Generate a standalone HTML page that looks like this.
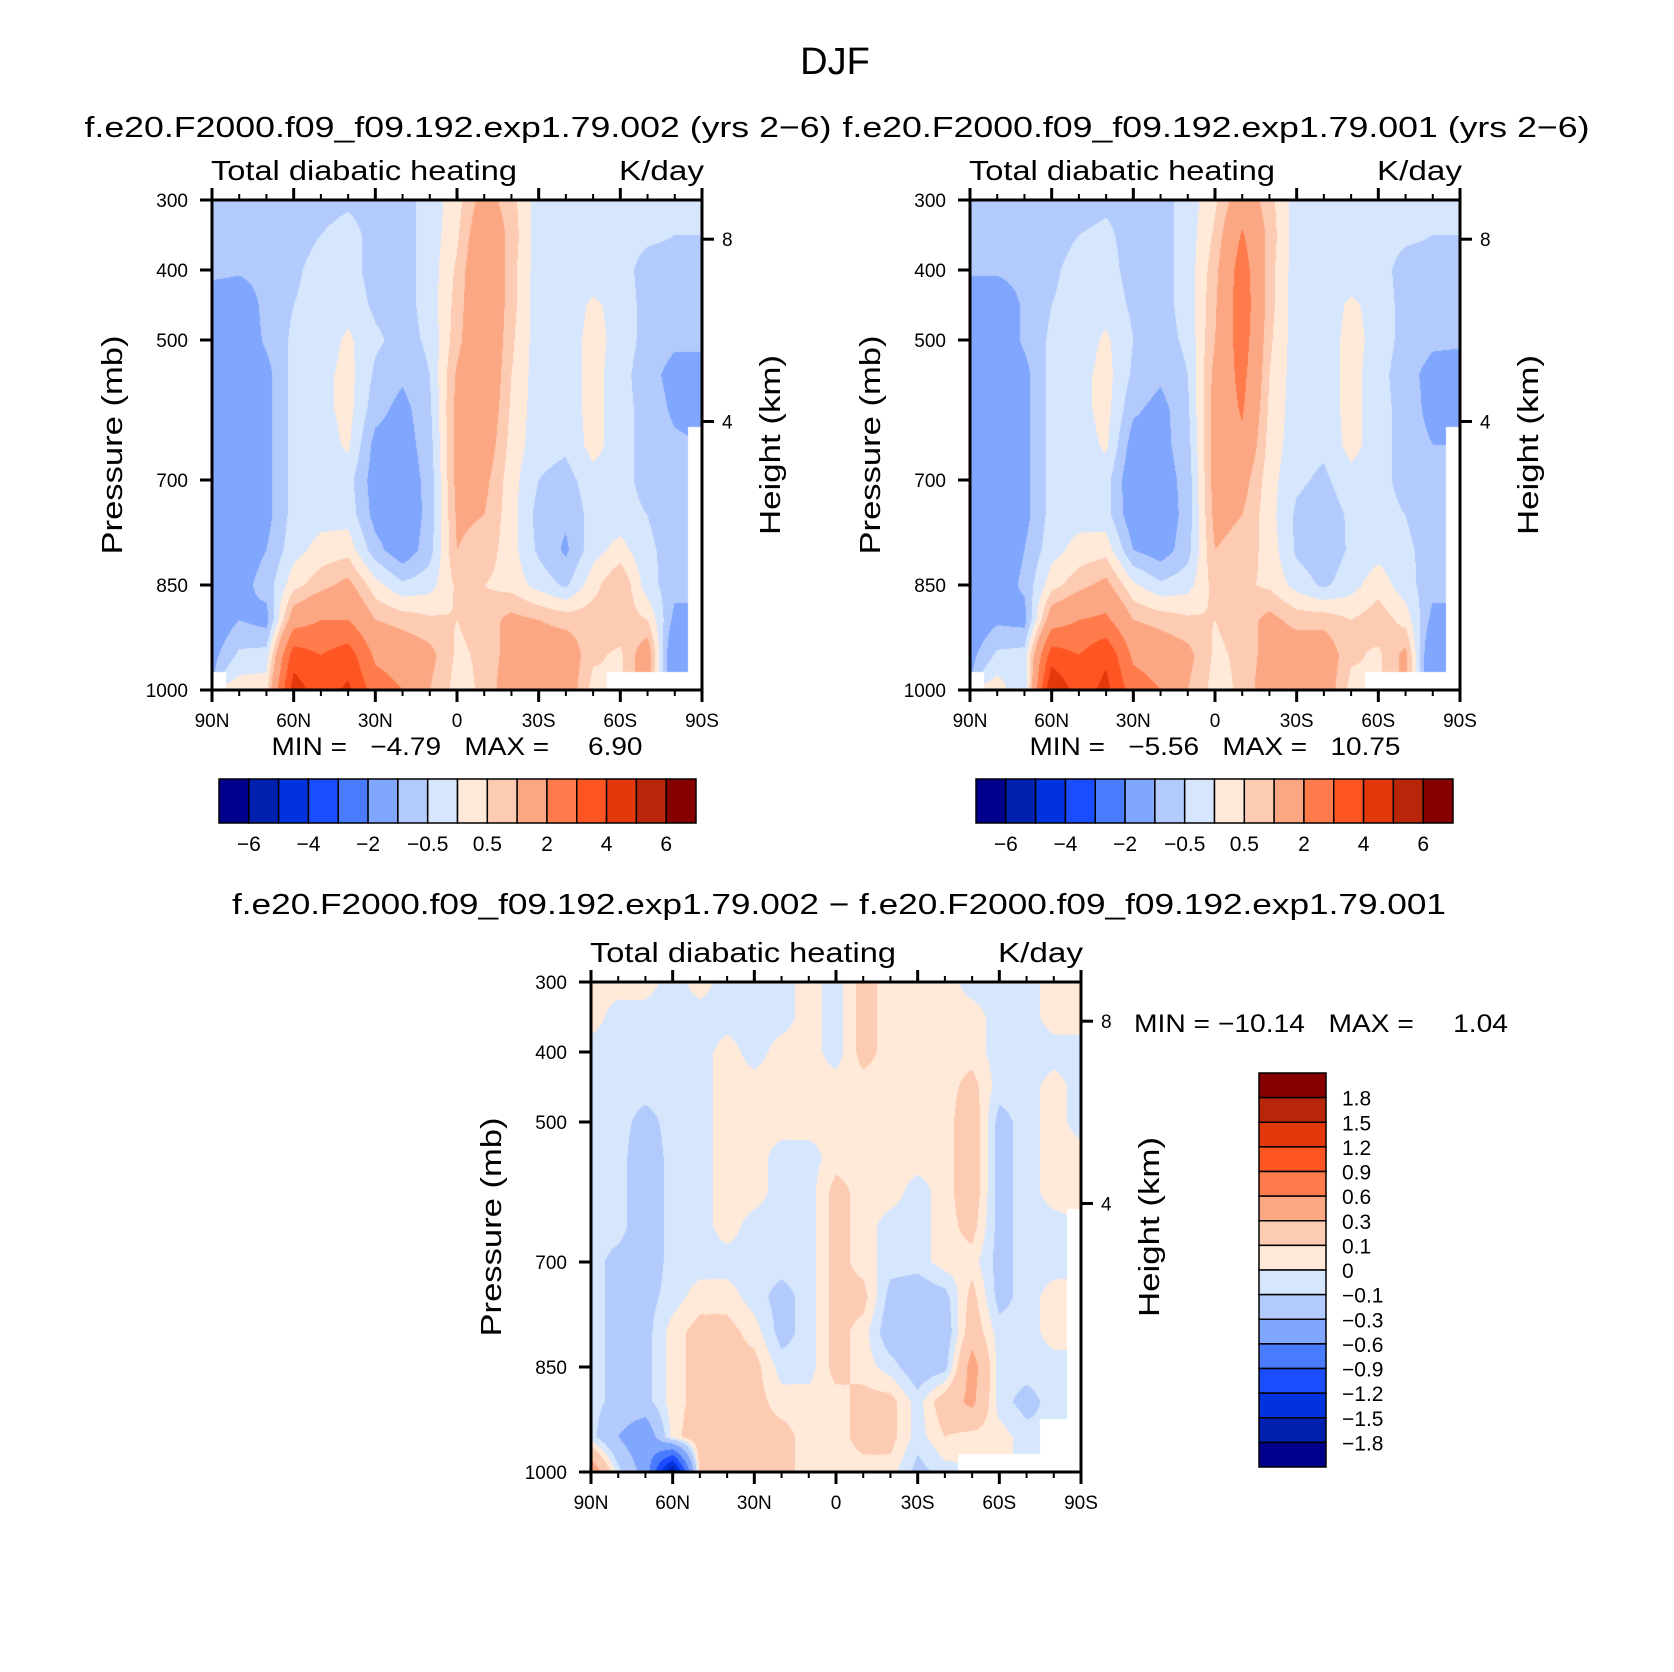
<!DOCTYPE html>
<html><head><meta charset="utf-8"><style>
body{margin:0;background:#fff;}
#wrap{position:relative;width:1674px;height:1672px;overflow:hidden;background:#fff;}
canvas{position:absolute;}
svg{position:absolute;left:0;top:0;}
text{font-family:"Liberation Sans",sans-serif;fill:#000;white-space:pre;}
</style></head><body>
<div id="wrap">
<canvas id="c0" width="490" height="490" style="left:212px;top:200px"></canvas>
<canvas id="c1" width="490" height="490" style="left:970px;top:200px"></canvas>
<canvas id="c2" width="490" height="490" style="left:591px;top:982px"></canvas>
<svg id="svg" width="1674" height="1672" xml:space="preserve"></svg>
</div>
<script>
const latLabels=["90N","60N","30N","0","30S","60S","90S"];
const pLevels=[300,350,400,450,500,550,600,650,700,750,800,850,900,950,1000];
const pTicks=[300,400,500,700,850,1000];
const hTicks=[8,4];
const colors=['#00008c','#0020b0','#0033dd','#1a4dff','#4a7bfc','#80a6fd','#b3cbfc','#d6e7fd','#ffe9d9','#fdcbb2','#fca783','#ff7b4b','#ff5522','#e2380c','#b8260a','#860000'];
const levelsAbs=[-6,-5,-4,-3,-2,-1,-0.5,0,0.5,1,2,3,4,5,6];
const levelsDiff=[-1.8,-1.5,-1.2,-0.9,-0.6,-0.3,-0.1,0,0.1,0.3,0.6,0.9,1.2,1.5,1.8];
const absLabels=["−6","−4","−2","−0.5","0.5","2","4","6"];
const diffLabels=["1.8","1.5","1.2","0.9","0.6","0.3","0.1","0","−0.1","−0.3","−0.6","−0.9","−1.2","−1.5","−1.8"];
const N=null;
const heatingExp002=[
[-0.7,-0.8,-0.8,-1.5,-1.5,-1.5,-1.5,-1.5,-1.5,-1.5,-1.5,-1.5,-1.5,-1.2,N],
[-0.7,-0.8,-0.9,-1.5,-1.5,-1.5,-1.5,-1.5,-1.5,-1.5,-1.3,-1.2,-1,-0.4,0.3],
[-0.7,-0.7,-0.8,-0.8,-0.9,-1.2,-1.2,-1.2,-1.2,-1.2,-1.0,-0.8,-1.2,-0.3,0.3],
[-0.7,-0.7,-0.6,-0.5,-0.4,-0.3,-0.3,-0.3,-0.3,-0.3,-0.2,0.3,1.5,3.5,4.5],
[-0.7,-0.5,-0.3,-0.3,-0.3,-0.2,-0.2,-0.3,-0.3,-0.2,0.2,0.8,2,3,3.5],
[-0.6,-0.3,-0.3,-0.2,0.1,0.2,0.2,0.1,-0.3,-0.2,0.3,1.2,2,3.5,4.2],
[-0.7,-0.7,-0.7,-0.6,-0.4,-0.6,-0.8,-1.2,-1.3,-1.2,-0.8,0.2,1,1.8,2.5],
[-0.7,-0.7,-0.7,-0.7,-0.7,-0.9,-1.2,-1.3,-1.4,-1.5,-1.4,-0.4,0.8,1.5,2],
[-0.3,-0.3,-0.3,-0.3,-0.4,-0.5,-0.6,-0.7,-0.8,-0.8,-0.7,-0.2,0.6,1.2,1],
[0.3,0.4,0.6,0.7,0.8,1.1,1.2,1.2,1.2,1.1,1.0,0.6,0.5,0.4,0.3],
[1.3,1.7,1.9,1.9,1.9,1.8,1.7,1.5,1.2,1,0.8,0.5,0.7,0.6,0.6],
[0.7,0.8,0.7,0.7,0.6,0.5,0.4,0.3,0.2,0.2,0.2,0.3,1.2,1.3,1.5],
[-0.3,-0.3,-0.3,-0.3,-0.3,-0.3,-0.3,-0.3,-0.5,-0.7,-0.6,-0.2,1,1.5,1.5],
[-0.3,-0.3,-0.3,-0.3,-0.3,-0.3,-0.3,-0.4,-0.7,-0.9,-1.1,-0.6,0.8,1.5,1.5],
[-0.3,-0.3,-0.3,0.1,0.2,0.2,0.2,0.2,-0.2,-0.3,-0.2,0.3,0.8,0.6,0.3],
[-0.3,-0.3,-0.3,-0.2,-0.2,-0.3,-0.3,-0.3,-0.3,-0.3,0.2,1,0.8,0.4,N],
[-0.3,-0.4,-0.7,-0.7,-0.7,-0.8,-0.7,-0.7,-0.7,-0.5,-0.4,-0.3,0.5,1.5,N],
[-0.3,-0.5,-0.7,-0.8,-0.9,-1.2,-1.1,-0.9,-0.8,-0.8,-0.7,-0.8,-1.2,-2,N],
[-0.3,-0.5,-0.7,-0.8,-0.9,-1.2,-1.2,N,N,N,N,N,N,N,N]];
const heatingExp001=[
[-0.7,-0.8,-0.9,-1.5,-1.5,-1.5,-1.6,-1.6,-1.6,-1.6,-1.5,-1.5,-1.5,-1.2,N],
[-0.7,-0.8,-0.9,-1.5,-1.5,-1.5,-1.5,-1.5,-1.5,-1.5,-1.4,-1.3,-1.1,-0.4,0.3],
[-0.7,-0.7,-0.8,-0.9,-0.9,-1.2,-1.2,-1.2,-1.2,-1.2,-1.0,-0.9,-1.2,-0.3,-0.5],
[-0.7,-0.7,-0.6,-0.5,-0.4,-0.3,-0.3,-0.3,-0.3,-0.3,-0.2,0.3,1.5,3.5,5],
[-0.7,-0.5,-0.3,-0.3,-0.3,-0.2,-0.2,-0.3,-0.3,-0.2,0.2,0.8,2,3,3.5],
[-0.6,-0.4,-0.3,-0.2,0.1,0.2,0.2,0.1,-0.3,-0.3,0.3,1.2,2.2,3.8,4.3],
[-0.7,-0.7,-0.7,-0.6,-0.5,-0.6,-0.9,-1.3,-1.5,-1.4,-1.0,0.1,1,1.8,2.5],
[-0.7,-0.7,-0.7,-0.7,-0.7,-0.9,-1.2,-1.2,-1.3,-1.4,-1.3,-0.4,0.8,1.5,2],
[-0.3,-0.3,-0.3,-0.3,-0.4,-0.5,-0.6,-0.7,-0.8,-0.8,-0.7,-0.2,0.6,1.2,1],
[0.4,0.6,0.8,0.9,1.0,1.2,1.3,1.3,1.3,1.2,1.0,0.7,0.5,0.4,0.3],
[1.5,2.1,2.5,2.6,2.5,2.3,2.1,1.8,1.3,1,0.8,0.6,0.7,0.6,0.6],
[0.7,0.8,0.7,0.7,0.6,0.5,0.4,0.3,0.2,0.2,0.3,0.4,1.2,1.3,1.5],
[-0.3,-0.3,-0.3,-0.3,-0.3,-0.3,-0.3,-0.3,-0.4,-0.6,-0.6,-0.2,0.8,1.5,1.5],
[-0.3,-0.3,-0.3,-0.3,-0.3,-0.3,-0.3,-0.4,-0.6,-0.8,-0.9,-0.6,0.8,1.5,1.5],
[-0.3,-0.3,-0.3,0.1,0.2,0.2,0.2,0.2,-0.2,-0.4,-0.4,-0.2,0.5,0.6,0.3],
[-0.3,-0.3,-0.3,-0.2,-0.2,-0.3,-0.3,-0.3,-0.3,-0.3,-0.2,0.3,0.8,0.4,N],
[-0.3,-0.4,-0.7,-0.7,-0.7,-0.8,-0.7,-0.7,-0.7,-0.5,-0.4,-0.3,0.3,1.2,N],
[-0.3,-0.5,-0.7,-0.8,-0.9,-1.2,-1.2,-1.0,-0.9,-0.8,-0.7,-0.8,-1.2,-2,N],
[-0.3,-0.5,-0.7,-0.8,-0.9,-1.3,-1.3,N,N,N,N,N,N,N,N]];
const heatingDiff=[
[0.05,0.05,-0.05,-0.05,-0.05,-0.05,-0.05,-0.05,-0.05,-0.05,-0.05,-0.05,-0.05,-0.05,0.5],
[0.05,-0.05,-0.05,-0.05,-0.05,-0.05,-0.05,-0.05,-0.15,-0.15,-0.15,-0.15,-0.15,-0.3,-0.05],
[0.05,-0.05,-0.05,-0.05,-0.15,-0.2,-0.2,-0.2,-0.2,-0.15,-0.15,-0.15,-0.15,-0.5,-0.4],
[-0.05,-0.05,-0.05,-0.05,-0.05,-0.05,-0.05,-0.05,-0.05,-0.05,0.05,0.05,0.05,0.05,-1.8],
[0.05,-0.05,-0.05,-0.05,-0.05,-0.05,-0.05,-0.05,-0.05,0.05,0.15,0.15,0.15,0.2,0.15],
[-0.05,-0.05,0.05,0.05,0.05,0.05,0.05,0.05,-0.05,0.05,0.15,0.15,0.15,0.15,0.15],
[-0.05,-0.05,-0.05,0.05,0.05,0.05,0.05,-0.05,-0.05,-0.05,0.05,0.15,0.15,0.15,0.15],
[-0.05,-0.05,0.05,0.05,0.05,-0.05,-0.05,-0.05,-0.05,-0.15,-0.15,-0.05,0.05,0.15,0.15],
[0.05,0.05,0.05,0.05,0.05,-0.05,-0.05,-0.05,-0.05,-0.05,-0.05,-0.05,0.05,0.05,0.05],
[-0.05,-0.05,-0.05,0.05,0.05,0.05,0.15,0.15,0.15,0.15,0.15,0.15,0.05,0.05,0.05],
[0.15,0.15,0.15,0.05,0.05,0.05,0.05,0.05,0.05,0.15,0.05,0.05,0.15,0.15,0.05],
[0.05,0.05,0.05,0.05,0.05,0.05,0.05,-0.05,-0.05,-0.15,-0.2,-0.05,0.15,0.15,0.05],
[0.05,0.05,0.05,0.05,0.05,0.05,-0.05,-0.05,-0.05,-0.2,-0.2,-0.2,-0.05,-0.05,-0.15],
[0.05,0.05,0.05,0.05,0.05,0.05,0.05,0.05,0.05,-0.15,-0.2,-0.15,0.2,0.1,-0.05],
[-0.05,0.05,0.05,0.15,0.2,0.2,0.2,0.15,0.05,0.15,0.2,0.4,0.35,0.05,N],
[-0.05,-0.05,-0.05,-0.05,-0.15,-0.15,-0.15,-0.15,-0.15,-0.15,-0.05,-0.05,-0.05,0.05,N],
[-0.05,-0.05,-0.05,-0.05,-0.05,-0.05,-0.05,-0.05,-0.05,-0.05,-0.05,-0.05,-0.15,-0.05,N],
[0.05,0.05,-0.05,0.05,0.05,0.05,0.05,-0.05,-0.05,0.05,0.05,-0.05,-0.05,N,N],
[0.05,0.05,-0.05,-0.05,-0.05,0.05,0.05,N,N,N,N,N,N,N,N]];

const NS='http://www.w3.org/2000/svg';
const svg=document.getElementById('svg');
function el(tag,attrs,parent){const e=document.createElementNS(NS,tag);for(const k in attrs)e.setAttribute(k,attrs[k]);(parent||svg).appendChild(e);return e;}
function txt(x,y,s,size,anchor,len){const t=el('text',{x:x,y:y,'font-size':size,'text-anchor':anchor||'middle'});if(len){t.setAttribute('textLength',len);t.setAttribute('lengthAdjust','spacingAndGlyphs');}t.textContent=s;return t;}
function hexRgb(h){return [parseInt(h.slice(1,3),16),parseInt(h.slice(3,5),16),parseInt(h.slice(5,7),16)];}
const rgb=colors.map(hexRgb);
function bin(v,lev){let k=0;while(k<lev.length&&v>=lev[k])k++;return k;}
function presToY(p,top,h){return top+(p-300)/700*h;}
function zToP(z){return 1013.25*Math.pow(1-0.0065*z*1000/288.15,5.256);}

function drawField(cid,data,lev){
  const cv=document.getElementById(cid),ctx=cv.getContext('2d');
  const W=cv.width,H=cv.height,img=ctx.createImageData(W,H);
  const nl=data.length,np=pLevels.length;
  for(let y=0;y<H;y++){
    const p=300+(y+0.5)/H*700;
    let fy=(p-pLevels[0])/(pLevels[1]-pLevels[0]);
    let j0=Math.min(np-2,Math.floor(fy)),ty=fy-j0;
    for(let x=0;x<W;x++){
      const fx=(x+0.5)/W*(nl-1);
      let i0=Math.min(nl-2,Math.floor(fx)),tx=fx-i0;
      const ni=tx<0.5?i0:i0+1,nj=ty<0.5?j0:j0+1;
      const o=(y*W+x)*4;
      if(data[ni][nj]===null){img.data[o]=255;img.data[o+1]=255;img.data[o+2]=255;img.data[o+3]=255;continue;}
      const c=[[i0,j0,(1-tx)*(1-ty)],[i0+1,j0,tx*(1-ty)],[i0,j0+1,(1-tx)*ty],[i0+1,j0+1,tx*ty]];
      let s=0,w=0;
      for(const q of c){const v=data[q[0]][q[1]];if(v!==null){s+=v*q[2];w+=q[2];}}
      const col=rgb[bin(s/w,lev)];
      img.data[o]=col[0];img.data[o+1]=col[1];img.data[o+2]=col[2];img.data[o+3]=255;
    }
  }
  ctx.putImageData(img,0,0);
}

function drawAxes(L,T,S,name){
  const g=el('g',{});
  
  
  el('rect',{x:L,y:T,width:S,height:S,fill:'none',stroke:'#000','stroke-width':3},g);
  for(let d=0;d<=18;d++){
    const x=L+d/18*S,maj=d%3===0,len=maj?12:6;
    el('line',{x1:x,y1:T+S,x2:x,y2:T+S+len,stroke:'#000','stroke-width':maj?3:2},g);
    el('line',{x1:x,y1:T,x2:x,y2:T-len,stroke:'#000','stroke-width':maj?3:2},g);
  }
  latLabels.forEach((s,k)=>{const t=txt(L+k/6*S,T+S+37,s,19);});
  pTicks.forEach(p=>{const y=presToY(p,T,S);
    el('line',{x1:L,y1:y,x2:L-12,y2:y,stroke:'#000','stroke-width':3},g);
    const t=txt(L-24,y+7,String(p),19,'end');});
  hTicks.forEach(z=>{const y=presToY(zToP(z),T,S);
    el('line',{x1:L+S,y1:y,x2:L+S+12,y2:y,stroke:'#000','stroke-width':3},g);
    const t=txt(L+S+20,y+7,String(z),19,'start');});
  const yt=txt(0,0,'Pressure (mb)',29,'middle',219);
  yt.setAttribute('transform','translate('+(L-90)+','+(T+S/2)+') rotate(-90)');
  
  const ht=txt(0,0,'Height (km)',29,'middle',180);
  ht.setAttribute('transform','translate('+(L+S+78)+','+(T+S/2)+') rotate(-90)');
  
  const a=txt(L-1,T-20,'Total diabatic heating',28,'start',306);
  const b=txt(L+S+2,T-20,'K/day',28,'end',85);
}

function hColorbar(L,T,W,H,name){
  const g=el('g',{});
  const bw=W/colors.length;
  colors.forEach((c,k)=>{const r=el('rect',{x:L+k*bw,y:T,width:bw,height:H,fill:c,stroke:'#000','stroke-width':1.5},g);
    });
  absLabels.forEach((s,k)=>{const t=txt(L+(2*k+1)*bw,T+H+28,s,21);});
}
function vColorbar(L,T,W,H){
  const g=el('g',{});
  const bh=H/colors.length;
  colors.slice().reverse().forEach((c,k)=>{const r=el('rect',{x:L,y:T+k*bh,width:W,height:bh,fill:c,stroke:'#000','stroke-width':1.5},g);
    });
  diffLabels.forEach((s,k)=>{const t=txt(L+W+16,T+(k+1)*bh+8,s,21,'start');});
}

drawField('c0',heatingExp002,levelsAbs);
drawField('c1',heatingExp001,levelsAbs);
drawField('c2',heatingDiff,levelsDiff);

const tt=txt(835,74,'DJF',38);
let s1=txt(458,137,'f.e20.F2000.f09_f09.192.exp1.79.002 (yrs 2−6)',29,'middle',747);
let s2=txt(1216,137,'f.e20.F2000.f09_f09.192.exp1.79.001 (yrs 2−6)',29,'middle',747);
let s3=txt(839,914,'f.e20.F2000.f09_f09.192.exp1.79.002 − f.e20.F2000.f09_f09.192.exp1.79.001',29,'middle',1214);

drawAxes(212,200,490,'left-panel');
drawAxes(970,200,490,'right-panel');
drawAxes(591,982,490,'diff-panel');

let m1=txt(457,755,'MIN =   −4.79   MAX =     6.90',25,'middle',371);
let m2=txt(1215,755,'MIN =   −5.56   MAX =   10.75',25,'middle',371);
let m3=txt(1134,1032,'MIN = −10.14   MAX =     1.04',25,'start',374);

hColorbar(219,779,477,44,'left-colorbar');
hColorbar(976,779,477,44,'right-colorbar');
vColorbar(1259,1073,67,394);
</script>
</body></html>
